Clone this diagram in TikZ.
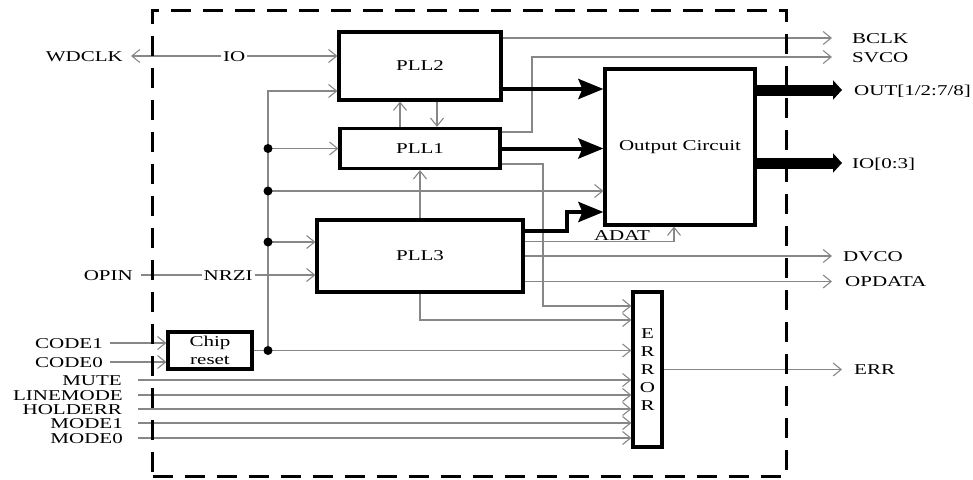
\documentclass[tikz,border=0pt]{standalone}
\usepackage{fontspec}
\setmainfont{Liberation Serif}[FakeStretch=1.4]
\usetikzlibrary{arrows.meta,calc}
\definecolor{lg}{RGB}{135,135,135}
\newcommand\fsz{\fontsize{15pt}{18pt}\selectfont}
\begin{document}
\begin{tikzpicture}[x=1pt,y=-1pt,
 every node/.style={font=\fsz},
 lbl/.style={inner sep=0pt,text height=10pt,text depth=0pt},
 blk/.style={draw,line width=3.2pt,inner sep=0pt,align=center},
 sig/.style={draw=lg,line width=1.1pt,-{Straight Barb[length=8pt,width=13pt]}},
 sigb/.style={draw=lg,line width=1.1pt,{Straight Barb[length=8pt,width=13pt]}-{Straight Barb[length=8pt,width=13pt]}},
 thk/.style={line width=4pt,-{Stealth[length=25pt,width=20pt,inset=4pt]}},
 busar/.style={line width=11pt,-{Triangle[length=9pt,width=19pt]}},
 onl/.style={lbl,fill=white,inner sep=2pt},
 dotc/.style={circle,fill,inner sep=0pt,minimum width=9pt,minimum height=8pt},
 framebox/.style={draw,dash pattern=on 20pt off 12pt,line width=3pt,minimum width=634pt,minimum height=466pt,inner sep=0pt}
]
\useasboundingbox (0,0) rectangle (973,479);

% blocks
\node[blk,minimum width=162pt,minimum height=68pt] (pll2) at (420,66) {PLL2};
\node[blk,minimum width=160pt,minimum height=40pt] (pll1) at (420,148.5) {PLL1};
\node[blk,minimum width=206pt,minimum height=72pt] (pll3) at (420,256) {PLL3};
\node[blk,minimum width=150pt,minimum height=156pt] (oc) at (680,147) {Output Circuit};
\node[blk,minimum width=29pt,minimum height=155pt] (err) at (647.5,369.5) {E\\R\\R\\O\\R};
\node[blk,minimum width=84pt,minimum height=37pt] (chip) at (210,350.5) {Chip\\reset};

% left labels
\node[lbl,anchor=east] (wd) at (123,56) {WDCLK};
\node[lbl,anchor=east] (opin) at (133,275) {OPIN};
\node[lbl,anchor=east] (c1) at (103,343) {CODE1};
\node[lbl,anchor=east] (c0) at (103,362) {CODE0};
\node[lbl,anchor=east] (mute) at (122,380) {MUTE};
\node[lbl,anchor=east] (lm) at (123,395) {LINEMODE};
\node[lbl,anchor=east] (he) at (122,409) {HOLDERR};
\node[lbl,anchor=east] (m1) at (123,423) {MODE1};
\node[lbl,anchor=east] (m0) at (123,438) {MODE0};

% right labels
\node[lbl,anchor=west] (bclk) at (852,38) {BCLK};
\node[lbl,anchor=west] (svco) at (852,57) {SVCO};
\node[lbl,anchor=west] (outl) at (854,90) {OUT[1/2:7/8]};
\node[lbl,anchor=west] (iol) at (852,163) {IO[0:3]};
\node[lbl,anchor=west] (dvco) at (843,256) {DVCO};
\node[lbl,anchor=west] (opd) at (845,281.5) {OPDATA};
\node[lbl,anchor=west] (errl) at (854,369.5) {ERR};
\node[lbl] (adat) at (622,235) {ADAT};

% coordinates
\coordinate (bt) at (268,91);
\coordinate (b1) at (268,148.5);
\coordinate (b2) at (268,191);
\coordinate (b3) at (268,242);
\coordinate (b4) at (268,350.5);
\coordinate (p1c) at (543,306);
\coordinate (sv) at (532,57);
\coordinate (t1) at ([yshift=-23pt]pll2.east);
\coordinate (t3a) at ([yshift=25pt]pll3.east);
\coordinate (t3b) at (567,212);
\coordinate (ad) at ([yshift=14.5pt]pll3.east);

% WDCLK / IO
\draw[sigb] ([xshift=8pt]wd.east) -- node[onl]{IO} (pll2.west |- wd.east);
% bus
\draw[sig] (b4) |- (bt -| pll2.west);
\draw[sig] (b1) -- (b1 -| pll1.west);
\draw[sig] (b2) -- (b2 -| oc.west);
\draw[sig] (b3) -- (b3 -| pll3.west);
\draw[sig] (chip.east) -- (chip.east -| err.west);
% OPIN
\draw[sig] ([xshift=8pt]opin.east) -- node[onl]{NRZI} (opin.east -| pll3.west);
% PLL links
\draw[sig] ([xshift=-20pt]pll1.north) -- ([xshift=-20pt]pll2.south);
\draw[sig] ([xshift=17pt]pll2.south) -- ([xshift=17pt]pll1.north);
\draw[sig] (pll3.north) -- (pll1.south);
\draw[sig] (pll3.south) |- ([yshift=49.5pt]err.west);
\draw[sig] ([yshift=-15.5pt]pll1.east) -| (p1c) -- (p1c -| err.west);
\draw[sig] ([yshift=16.5pt]pll1.east) -| (sv) -- ([xshift=-20pt]svco.west);
\draw[sig] (pll2.east |- bclk.west) -- ([xshift=-20pt]bclk.west);
% thick arrows
\draw[thk] (t1) -- (t1 -| oc.west);
\draw[thk] (pll1.east) -- (pll1.east -| oc.west);
\draw[thk] (t3a) -| (t3b) -- (t3b -| oc.west);
% PLL3 outputs
\draw[sig] (ad) -| ([xshift=-6pt]oc.south);
\draw[sig] (pll3.east |- dvco.west) -- ([xshift=-11pt]dvco.west);
\draw[sig] (pll3.east |- opd.west) -- ([xshift=-13pt]opd.west);
% buses out
\draw[busar] (oc.east |- outl.west) -- ([xshift=-12pt]outl.west);
\draw[busar] (oc.east |- iol.west) -- ([xshift=-10pt]iol.west);
% ERR
\draw[sig] (err.east |- errl.west) -- ([xshift=-12pt]errl.west);
% inputs
\draw[sig] ([xshift=7pt]c1.east) -- (c1.east -| chip.west);
\draw[sig] ([xshift=7pt]c0.east) -- (c0.east -| chip.west);
\draw[sig] ([xshift=16pt]mute.east) -- (mute.east -| err.west);
\draw[sig] ([xshift=15pt]lm.east) -- (lm.east -| err.west);
\draw[sig] ([xshift=16pt]he.east) -- (he.east -| err.west);
\draw[sig] ([xshift=15pt]m1.east) -- (m1.east -| err.west);
\draw[sig] ([xshift=15pt]m0.east) -- (m0.east -| err.west);

% dots
\node[dotc] (d1) at (b1) {};
\node[dotc] (d2) at (b2) {};
\node[dotc] (d3) at (b3) {};
\node[dotc] (d4) at (b4) {};

% frame
\node[framebox] (frame) at (469.5,243) {};
\end{tikzpicture}
\end{document}
